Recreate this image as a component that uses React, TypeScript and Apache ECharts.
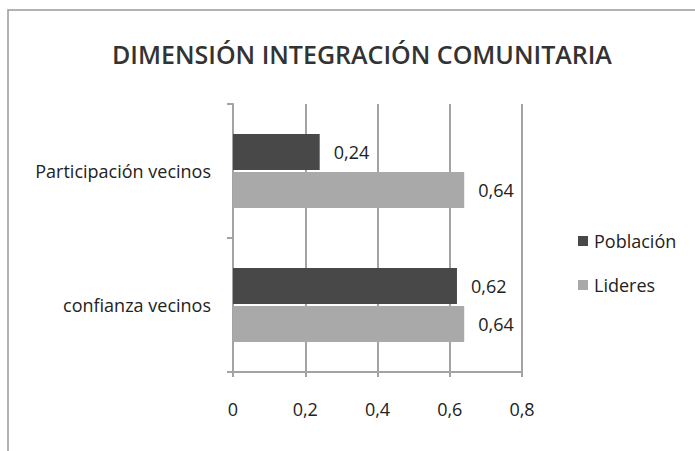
import React, { useEffect, useRef } from "react";
import * as echarts from "echarts";

const titleText = "DIMENSIÓN INTEGRACIÓN COMUNITARIA";
const categories = ["Participación vecinos", "confianza vecinos"];
const seriesNames = ["Población", "Lideres"];
const poblacion = [0.24, 0.62];
const lideres = [0.64, 0.64];
const xTicks = [0, 0.2, 0.4, 0.6, 0.8];

const FONT = "Open Sans";
const fmt = (v: number) => String(v).replace(".", ",");

export default function App() {
  const ref = useRef<HTMLDivElement>(null);
  useEffect(() => {
    if (!ref.current) return;
    const chart = echarts.init(ref.current, undefined, { renderer: "svg" });
    const gridColor = "#a3a3a3";
    const labelStyle = { fontFamily: FONT, fontSize: 18, color: "#222222" };
    chart.setOption({
      animation: false,
      backgroundColor: "#ffffff",
      graphic: [
        {
          type: "rect",
          shape: { x: 8, y: 10, width: 700, height: 460 },
          style: { fill: "none", stroke: "#9a9a9a", lineWidth: 1.5 },
          silent: true,
        },
      ],
      title: {
        text: titleText,
        left: 107,
        top: 36,
        textStyle: { fontFamily: FONT, fontSize: 25, fontWeight: 600, color: "#333333" },
      },
      legend: {
        orient: "vertical",
        left: 573,
        top: 227,
        itemWidth: 10,
        itemHeight: 10,
        itemGap: 26,
        icon: "rect",
        data: seriesNames,
        textStyle: { ...labelStyle, padding: [0, 0, 0, 1] },
      },
      grid: { left: 233, right: 173, top: 104, bottom: 79, containLabel: false },
      xAxis: {
        type: "value",
        min: xTicks[0],
        max: xTicks[xTicks.length - 1],
        interval: 0.2,
        axisLine: { show: true, lineStyle: { color: gridColor, width: 2 } },
        axisTick: { show: true, length: 5, lineStyle: { color: gridColor, width: 2 } },
        splitLine: { show: true, lineStyle: { color: gridColor, width: 2 } },
        axisLabel: {
          formatter: (v: number) => fmt(Math.round(v * 10) / 10),
          ...labelStyle,
          margin: 28,
        },
      },
      yAxis: {
        type: "category",
        inverse: true,
        data: categories,
        axisLine: { show: true, lineStyle: { color: gridColor, width: 2 } },
        axisTick: { show: true, length: 6, lineStyle: { color: gridColor, width: 2 } },
        axisLabel: { ...labelStyle, margin: 22 },
      },
      series: [
        {
          name: seriesNames[0],
          type: "bar",
          data: poblacion,
          barWidth: 36,
          barGap: "6%",
          itemStyle: { color: "#484848" },
          label: {
            show: true,
            position: "right",
            distance: 14,
            formatter: (p: any) => fmt(p.value),
            ...labelStyle,
          },
        },
        {
          name: seriesNames[1],
          type: "bar",
          data: lideres,
          barWidth: 36,
          barGap: "6%",
          itemStyle: { color: "#a9a9a9" },
          label: {
            show: true,
            position: "right",
            distance: 14,
            formatter: (p: any) => fmt(p.value),
            ...labelStyle,
          },
        },
      ],
    });
    return () => chart.dispose();
  }, []);
  return (
    <div
      ref={ref}
      style={{ position: "absolute", left: 0, top: 0, width: 695, height: 451 }}
    />
  );
}
